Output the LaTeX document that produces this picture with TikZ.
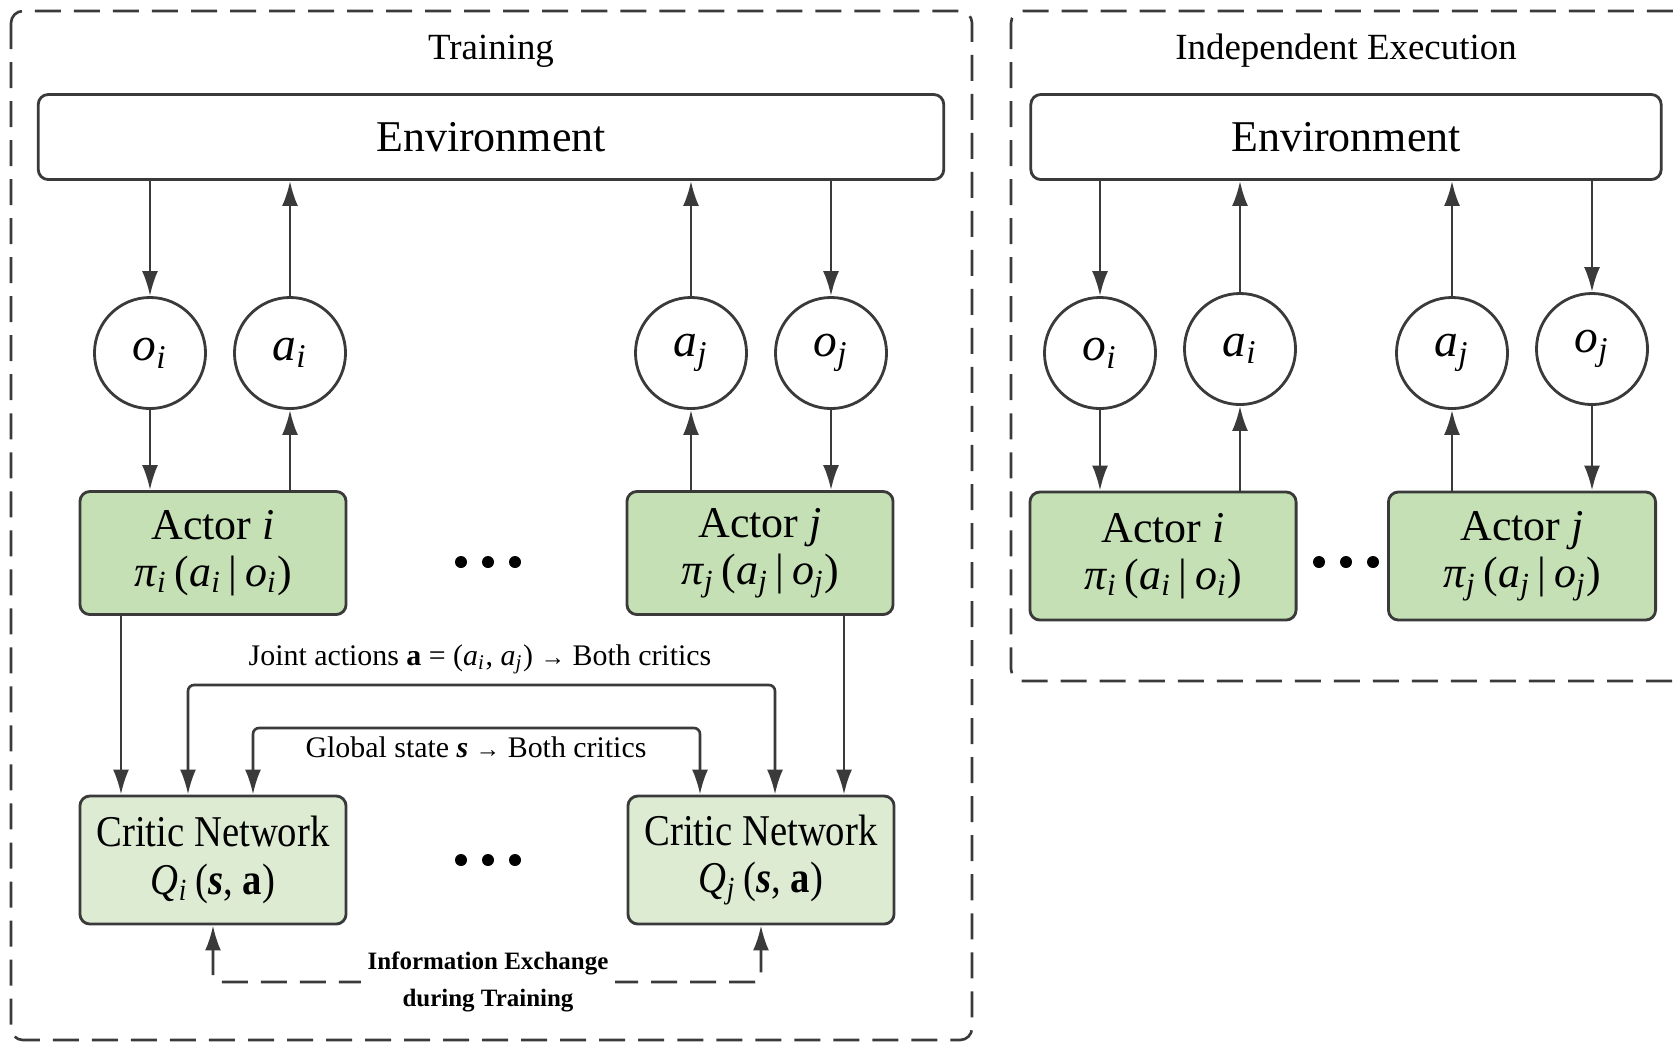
\documentclass[tikz,border=0pt]{standalone}
\usepackage{fontspec}
\setmainfont{Liberation Serif}
\newfontfamily\narrowrm{Liberation Serif}[FakeStretch=0.88]
\usetikzlibrary{positioning, arrows.meta, calc}
\definecolor{linec}{HTML}{3A3A3A}
\definecolor{actorc}{HTML}{C5E0B4}
\definecolor{criticc}{HTML}{DDEBD3}
\newcommand{\vsub}[2]{\textit{#1}\textsubscript{\textit{#2}}}
\tikzset{%
  panel/.style    = {draw = linec, line width = 0.75pt, dash pattern = on 2.6mm off 1.3mm,
    rounded corners = 1.2mm},
  title/.style    = {font = \fontsize{10.5}{12}\selectfont},
  envbox/.style   = {draw = linec, line width = 0.8pt, rounded corners = 1mm,
    minimum height = 0.85cm, font = \fontsize{12.5}{15}\selectfont},
  obs/.style      = {draw = linec, circle, fill = white, line width = 0.8pt,
    minimum size = 1.11cm, inner sep = 0pt, font = \fontsize{13.5}{16}\selectfont}, % Observation / action
  actor/.style    = {draw = linec, fill = actorc, rounded corners = 1mm, line width = 0.8pt,
    minimum width = 2.66cm, minimum height = 1.23cm, align = center,
    font = \fontsize{12.5}{13.5}\selectfont},
  critic/.style   = {actor, fill = criticc, minimum height = 1.28cm,
    font = \narrowrm\fontsize{12.5}{13.5}\selectfont},
  flow/.style     = {->, draw = linec, line width = 0.75pt},
  lbl/.style      = {font = \fontsize{8.5}{10}\selectfont}
}

\begin{document}
\begin{tikzpicture}[x = 0.01cm, y = -0.01cm, >={Latex[length=2.5mm, width=1.6mm]}]
\useasboundingbox (0,0) rectangle (1673,1044);
%panels
\draw[panel] (11,11) rectangle (972,1040);
\draw[panel] (1011,11) rectangle (1720,681);
\node[title] (trainT) at (491,51) {Training};
\node[title] (execT) at (1346,51) {Independent Execution};
%training blocks
\node[envbox, minimum width = 9.05cm] (env) at (491,137) {Environment};
\node[obs] (oI) at (150,353) {\vsub{o}{i}};
\node[obs] (aI) at (290,353) {\vsub{a}{i}};
\node[obs] (aJ) at (691,353) {\vsub{a}{j}};
\node[obs] (oJ) at (831,353) {\vsub{o}{j}};
\node[actor] (actI) at (213,553) {Actor \textit{i}\\\vsub{π}{i}\,(\vsub{a}{i}\,|\,\vsub{o}{i})};
\node[actor] (actJ) at (760,553) {Actor \textit{j}\\\vsub{π}{j}\,(\vsub{a}{j}\,|\,\vsub{o}{j})};
\node[critic] (crI) at (213,860) {Critic Network\\\vsub{Q}{i}\,(\textbf{\textit{s}}, \textbf{a})};
\node[critic] (crJ) at (761,860) {Critic Network\\\vsub{Q}{j}\,(\textbf{\textit{s}}, \textbf{a})};
\foreach \dx in {-27,0,27} {
  \fill ({488+\dx},562) circle [radius = 0.06cm];
  \fill ({488+\dx},860) circle [radius = 0.06cm];
}
%training lines
\draw[flow] (env.south -| oI) -- (oI);
\draw[flow] (aI) -- (env.south -| aI);
\draw[flow] (aJ) -- (env.south -| aJ);
\draw[flow] (env.south -| oJ) -- (oJ);
\draw[flow] (oI) -- (actI.north -| oI);
\draw[flow] (actI.north -| aI) -- (aI);
\draw[flow] (actJ.north -| aJ) -- (aJ);
\draw[flow] (oJ) -- (actJ.north -| oJ);
\coordinate (xI) at (121,0);
\coordinate (xJ) at (844,0);
\draw[flow] (actI.south -| xI) -- (crI.north -| xI);
\draw[flow] (actJ.south -| xJ) -- (crJ.north -| xJ);
%shared critic inputs
\coordinate (jl) at (188,685);
\coordinate (jr) at (775,685);
\coordinate (gl) at (253,728);
\coordinate (gr) at (700,728);
\draw[flow, <->, rounded corners = 0.6mm] (crI.north -| jl) |- (jr) -- (crJ.north -| jr);
\draw[flow, <->, rounded corners = 0.6mm] (crI.north -| gl) |- (gr) -- (crJ.north -| gr);
\node[lbl] (jointL) at (480,659) {Joint actions \textbf{a} = (\vsub{a}{i}, \vsub{a}{j}) {\scriptsize →} Both critics};
\node[lbl] (globalL) at (476,747) {Global state \textbf{\textit{s}} {\scriptsize →} Both critics};
%information exchange
\coordinate (ib) at (488,982);
\draw[flow, <->, dash pattern = on 2.6mm off 1.3mm, rounded corners = 0.6mm]
  (crI.south) |- (ib) -| (crJ.south);
\node[fill = white, align = center, inner sep = 2pt, font = \bfseries\fontsize{7.1}{10.5}\selectfont]
  (infoL) at (488,982) {Information Exchange\\during Training};
%execution blocks
\node[envbox, minimum width = 6.30cm] (envE) at (1346,137) {Environment};
\node[obs] (oIE) at (1100,353) {\vsub{o}{i}};
\node[obs] (aIE) at (1240,349) {\vsub{a}{i}};
\node[obs] (aJE) at (1452,353) {\vsub{a}{j}};
\node[obs] (oJE) at (1592,349) {\vsub{o}{j}};
\node[actor, minimum height = 1.28cm] (actIE) at (1163,556) {Actor \textit{i}\\\vsub{π}{i}\,(\vsub{a}{i}\,|\,\vsub{o}{i})};
\node[actor, minimum height = 1.28cm, minimum width = 2.67cm] (actJE) at (1522,556) {Actor \textit{j}\\\vsub{π}{j}\,(\vsub{a}{j}\,|\,\vsub{o}{j})};
\foreach \dx in {-27,0,27}
  \fill ({1346+\dx},562) circle [radius = 0.06cm];
%execution lines
\draw[flow] (envE.south -| oIE) -- (oIE);
\draw[flow] (aIE) -- (envE.south -| aIE);
\draw[flow] (aJE) -- (envE.south -| aJE);
\draw[flow] (envE.south -| oJE) -- (oJE);
\draw[flow] (oIE) -- (actIE.north -| oIE);
\draw[flow] (actIE.north -| aIE) -- (aIE);
\draw[flow] (actJE.north -| aJE) -- (aJE);
\draw[flow] (oJE) -- (actJE.north -| oJE);
\end{tikzpicture}
\end{document}
